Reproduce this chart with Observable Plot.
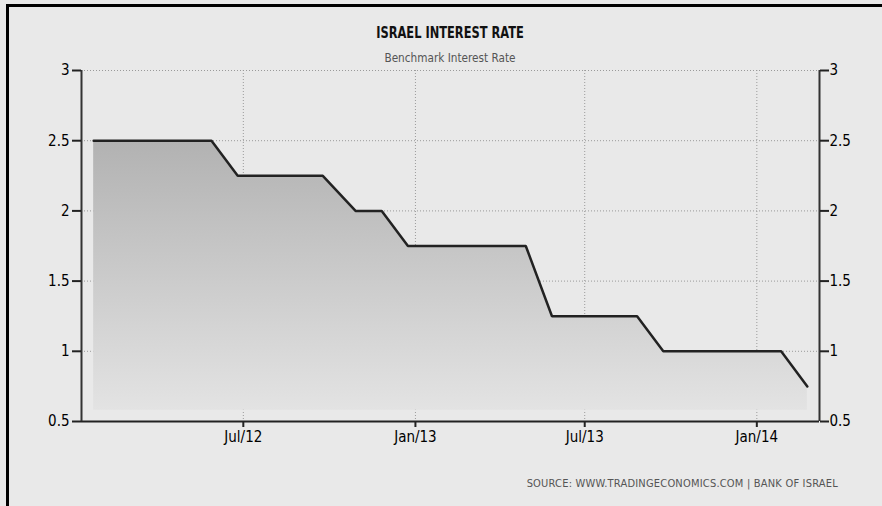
<!DOCTYPE html>
<html>
<head>
<meta charset="utf-8">
<script src="https://cdn.jsdelivr.net/npm/d3@7"></script>
<script src="https://cdn.jsdelivr.net/npm/@observablehq/plot@0.6"></script>
<style>
  html, body { margin: 0; padding: 0; background: #e9e9e9; }
  #wrap { position: relative; width: 882px; height: 506px; overflow: hidden; background: #e9e9e9; }
  #bt { position: absolute; left: 6px; top: 4px; width: 876px; height: 3px; background: #000; }
  #bl { position: absolute; left: 6px; top: 4px; width: 3px; height: 502px; background: #000; }
  .txt { position: absolute; white-space: nowrap; }
  #title { left: 250px; width: 400px; top: 24px; text-align: center; font: bold 15.5px "DejaVu Sans Condensed", sans-serif; color: #111; line-height: 18px; transform: scaleX(0.82); transform-origin: 200px 0; }
  #subtitle { left: 250px; width: 400px; top: 51px; text-align: center; font: 11.7px "DejaVu Sans Condensed", sans-serif; color: #555; line-height: 14px; }
  #source { right: 44px; top: 477px; text-align: right; font: 11px "DejaVu Sans Condensed", sans-serif; letter-spacing: 0.2px; color: #555; line-height: 14px; }
  #chart { position: absolute; left: 0; top: 0; }
</style>
</head>
<body>
<div id="wrap">
  <div id="chart"></div>
  <div id="title" class="txt">ISRAEL INTEREST RATE</div>
  <div id="subtitle" class="txt">Benchmark Interest Rate</div>
  <div id="source" class="txt">SOURCE: WWW.TRADINGECONOMICS.COM | BANK OF ISRAEL</div>
  <div id="bt"></div>
  <div id="bl"></div>
</div>
<script>
const dates = [
  "2012-01-23","2012-02-27","2012-03-26","2012-04-23","2012-05-28","2012-06-25",
  "2012-07-23","2012-08-27","2012-09-24","2012-10-29","2012-11-26","2012-12-24",
  "2013-01-28","2013-02-25","2013-03-25","2013-04-29","2013-05-27","2013-06-24",
  "2013-07-29","2013-08-26","2013-09-23","2013-10-28","2013-11-25","2013-12-23",
  "2014-01-27","2014-02-24"
];
const rates = [
  2.5, 2.5, 2.5, 2.5, 2.5, 2.25,
  2.25, 2.25, 2.25, 2.0, 2.0, 1.75,
  1.75, 1.75, 1.75, 1.75, 1.25, 1.25,
  1.25, 1.25, 1.0, 1.0, 1.0, 1.0,
  1.0, 0.75
];
const yTicks = [0.5, 1, 1.5, 2, 2.5, 3];
const xTicks = ["2012-07-01", "2013-01-01", "2013-07-01", "2014-01-01"];
const xDomainStr = ["2012-01-10", "2014-03-09"];
const yDomain = [0.5, 3];

const parse = d3.utcParse("%Y-%m-%d");
const data = dates.map((d, i) => ({date: parse(d), rate: rates[i]}));
const xTickDates = xTicks.map(parse);
const xDomain = xDomainStr.map(parse);
const areaBase = 0.58;

const fontTick = "DejaVu Sans Condensed, sans-serif";
const plot = Plot.plot({
  width: 882,
  height: 506,
  marginLeft: 81,
  marginRight: 63,
  marginTop: 70,
  marginBottom: 85,
  style: {background: "transparent", fontFamily: fontTick, fontSize: "15px", color: "#000"},
  x: {type: "utc", domain: xDomain, label: null},
  y: {domain: yDomain, label: null},
  marks: [
    Plot.gridY(yTicks, {stroke: "#9a9a9a", strokeOpacity: 1, strokeDasharray: "1,2"}),
    Plot.gridX(xTickDates, {stroke: "#9a9a9a", strokeOpacity: 1, strokeDasharray: "1,2"}),
    Plot.areaY(data, {x: "date", y1: areaBase, y2: "rate", fill: "url(#areaGrad)"}),
    Plot.lineY(data, {x: "date", y: "rate", stroke: "#222", strokeWidth: 2.5, strokeLinejoin: "miter"}),
    Plot.ruleY([yDomain[0]], {stroke: "#222", strokeWidth: 2}),
    Plot.ruleX(xDomain, {stroke: "#333", strokeWidth: 2}),
    Plot.axisY(yTicks, {anchor: "left", label: null, tickSize: 9, tickPadding: 3, tickFormat: d => String(d), strokeWidth: 2, stroke: "#222", fill: "#000", fontSize: 15}),
    Plot.axisY(yTicks, {anchor: "right", label: null, tickSize: 9, tickPadding: 1, tickFormat: d => String(d), strokeWidth: 2, stroke: "#222", fill: "#000", fontSize: 15}),
    Plot.axisX(xTickDates, {anchor: "bottom", label: null, tickSize: 6, tickPadding: 4, tickFormat: d3.utcFormat("%b/%y"), strokeWidth: 2, stroke: "#222", fill: "#000", fontSize: 15})
  ]
});

const ns = "http://www.w3.org/2000/svg";
const defs = document.createElementNS(ns, "defs");
const grad = document.createElementNS(ns, "linearGradient");
grad.setAttribute("id", "areaGrad");
grad.setAttribute("x1", "0"); grad.setAttribute("y1", "0");
grad.setAttribute("x2", "0"); grad.setAttribute("y2", "1");
[["0", "#b2b2b2"], ["1", "#e3e3e3"]].forEach(([o, c]) => {
  const s = document.createElementNS(ns, "stop");
  s.setAttribute("offset", o); s.setAttribute("stop-color", c);
  grad.appendChild(s);
});
defs.appendChild(grad);
plot.insertBefore(defs, plot.firstChild);
document.getElementById("chart").appendChild(plot);
</script>
</body>
</html>
